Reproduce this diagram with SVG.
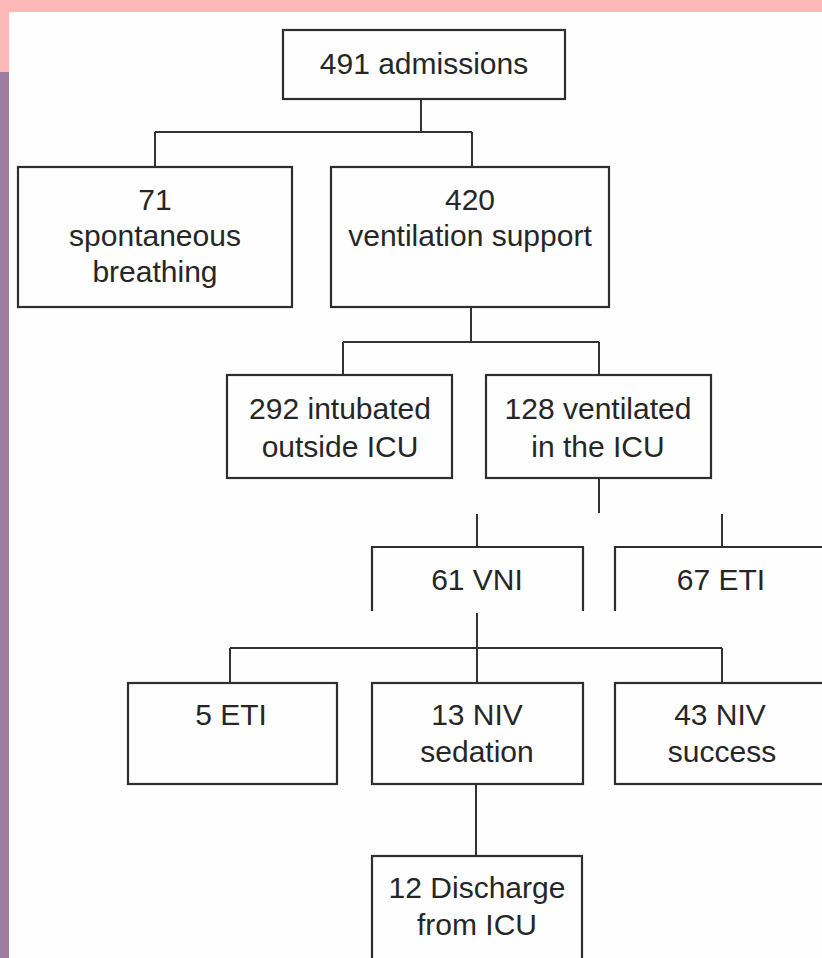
<svg xmlns="http://www.w3.org/2000/svg" width="822" height="958" viewBox="0 0 822 958">
<style>
.box{fill:none;stroke:#2e2e2e;stroke-width:2.2}
.open{fill:none;stroke:#2e2e2e;stroke-width:2.2}
.ln{fill:none;stroke:#333;stroke-width:2}
text{font-family:"Liberation Sans",Arial,sans-serif;font-size:30px;fill:#262626;text-anchor:middle}
</style>
<rect x="0" y="0" width="822" height="958" fill="#9e7ca0"/>
<rect x="0" y="0" width="822" height="72" fill="#fdb9b7"/>
<rect x="9" y="12" width="813" height="946" fill="#fefefe"/>
<g id="connectors">
<path class="ln" d="M421 99V132M155 132H472M155 132V167M472 132V167"/>
<path class="ln" d="M471 307V342M343 342H599M343 342V375M599 342V375"/>
<path class="ln" d="M599 478V513"/>
<path class="ln" d="M477 514V547M722 514V547"/>
<path class="ln" d="M477 613V683M230 648H722M230 648V683M722 648V683"/>
<path class="ln" d="M476 784V856"/>
</g>
<g id="n491"><rect class="box" x="283" y="30" width="282" height="69"/><text x="424" y="74">491 admissions</text></g>
<g id="n71"><rect class="box" x="18" y="167" width="274" height="140"/><text x="155" y="210">71</text><text x="155" y="246">spontaneous</text><text x="155" y="282">breathing</text></g>
<g id="n420"><rect class="box" x="331" y="167" width="278" height="140"/><text x="470" y="210">420</text><text x="470" y="246">ventilation support</text></g>
<g id="n292"><rect class="box" x="227" y="375" width="225" height="103"/><text x="340" y="419">292 intubated</text><text x="340" y="457">outside ICU</text></g>
<g id="n128"><rect class="box" x="486" y="375" width="225" height="103"/><text x="598" y="419">128 ventilated</text><text x="598" y="457">in the ICU</text></g>
<g id="n61"><path class="open" d="M372 611V547H583V611"/><text x="477" y="590">61 VNI</text></g>
<g id="n67"><path class="open" d="M615 611V547H830"/><text x="721" y="590">67 ETI</text></g>
<g id="n5"><rect class="box" x="128" y="683" width="209" height="101"/><text x="231" y="725">5 ETI</text></g>
<g id="n13"><rect class="box" x="372" y="683" width="211" height="101"/><text x="477" y="725">13 NIV</text><text x="477" y="762">sedation</text></g>
<g id="n43"><rect class="box" x="615" y="683" width="215" height="101"/><text x="720" y="725">43 NIV</text><text x="722" y="762">success</text></g>
<g id="n12"><rect class="box" x="372" y="856" width="210" height="110"/><text x="477" y="898">12 Discharge</text><text x="477" y="935">from ICU</text></g>
</svg>
